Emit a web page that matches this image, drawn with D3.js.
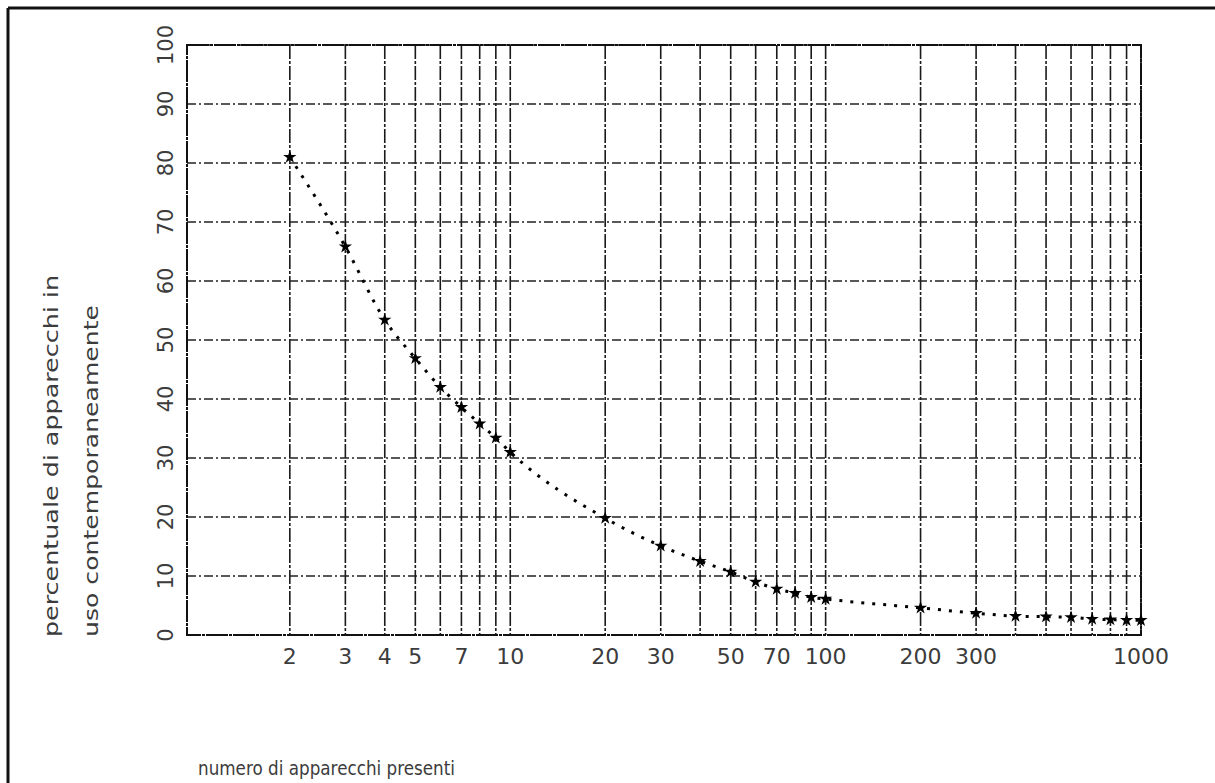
<!DOCTYPE html>
<html>
<head>
<meta charset="utf-8">
<script src="https://cdn.jsdelivr.net/npm/d3@7"></script>
<style>
	body { margin: 0; background: #fff; }
	text { font-family: "DejaVu Sans", sans-serif; fill: #3c3c3c; }
</style>
</head>
<body>
<script>
// numero di apparecchi presenti -> percentuale in uso contemporaneamente
var counts = [2, 3, 4, 5, 6, 7, 8, 9, 10, 20, 30, 40, 50, 60, 70, 80, 90, 100, 200, 300, 400, 500, 600, 700, 800, 900, 1000];
var percents = [81.0, 65.8, 53.4, 46.9, 42.0, 38.6, 35.8, 33.4, 31.0, 19.8, 15.1, 12.5, 10.7, 9.0, 7.8, 7.1, 6.4, 6.1, 4.6, 3.7, 3.2, 3.1, 3.0, 2.7, 2.6, 2.5, 2.5];
var xTickLabels = [2, 3, 4, 5, 7, 10, 20, 30, 50, 70, 100, 200, 300, 1000];
var yTickLabels = [0, 10, 20, 30, 40, 50, 60, 70, 80, 90, 100];
var yTitle = ["percentuale di apparecchi in", "uso contemporaneamente"];
var xTitle = "numero di apparecchi presenti";

var w = 1215, h = 783;
var plotL = 187, plotR = 1141, plotT = 45, plotB = 635;

function draw() {
	var svg = d3.select("body")
			.append("svg")
			.attr("width", w)
			.attr("height", h);

	// outer frame (only top and left visible)
	svg.append("line").attr("x1", 8).attr("x2", w).attr("y1", 8).attr("y2", 8)
		.attr("stroke", "#111").attr("stroke-width", 3);
	svg.append("line").attr("x1", 8).attr("x2", 8).attr("y1", 8).attr("y2", h)
		.attr("stroke", "#111").attr("stroke-width", 3);

	var x = d3.scaleLog().domain([0.944, 1000]).range([plotL, plotR]);
	var y = d3.scaleLinear().domain([0, 100]).range([plotB, plotT]);

	// vertical grid
	var gridX = x.ticks().filter(function(d) { return d >= 2; });
	svg.append("g").selectAll("line")
		.data(gridX)
		.enter().append("line")
		.attr("x1", function(d) { return x(d); })
		.attr("x2", function(d) { return x(d); })
		.attr("y1", plotT)
		.attr("y2", plotB)
		.attr("stroke", "#1a1a1a")
		.attr("stroke-width", 1.6)
		.attr("stroke-dasharray", "14,2,3,2");

	// horizontal grid
	svg.append("g").selectAll("line")
		.data(yTickLabels.filter(function(d) { return d > 0; }))
		.enter().append("line")
		.attr("x1", plotL)
		.attr("x2", plotR)
		.attr("y1", function(d) { return y(d); })
		.attr("y2", function(d) { return y(d); })
		.attr("stroke", "#222")
		.attr("stroke-width", 1.3)
		.attr("stroke-dasharray", "9,3,2,3");

	// plot border
	svg.append("rect")
		.attr("x", plotL).attr("y", plotT)
		.attr("width", plotR - plotL).attr("height", plotB - plotT)
		.attr("fill", "none")
		.attr("stroke", "#111")
		.attr("stroke-width", 2)
		.attr("stroke-dasharray", "22,1,3,1");

	// tick labels
	svg.append("g").selectAll("text")
		.data(xTickLabels)
		.enter().append("text")
		.attr("x", function(d) { return x(d); })
		.attr("y", 664)
		.attr("text-anchor", "middle")
		.attr("font-size", 22)
		.text(function(d) { return d; });

	svg.append("g").selectAll("text")
		.data(yTickLabels)
		.enter().append("text")
		.attr("transform", function(d) { return "translate(165," + y(d) + ") rotate(-90)"; })
		.attr("text-anchor", "middle")
		.attr("dy", "0.36em")
		.attr("font-size", 21)
		.text(function(d) { return d; });

	// axis titles
	svg.append("g").selectAll("text")
		.data(yTitle)
		.enter().append("text")
		.attr("transform", function(d, i) { return "translate(" + (58 + i * 40) + ",637) rotate(-90)"; })
		.attr("font-size", 20)
		.attr("textLength", function(d, i) { return i == 0 ? 362 : 332; })
		.attr("lengthAdjust", "spacingAndGlyphs")
		.text(function(d) { return d; });

	svg.append("text")
		.attr("x", 198)
		.attr("y", 775)
		.attr("font-size", 19)
		.attr("textLength", 257)
		.attr("lengthAdjust", "spacingAndGlyphs")
		.text(xTitle);

	// dotted curve + markers
	var pts = counts.map(function(c, i) { return [c, percents[i]]; });
	var line = d3.line()
			.x(function(d) { return x(d[0]); })
			.y(function(d) { return y(d[1]); })
			.curve(d3.curveMonotoneX);
	svg.append("path")
		.attr("d", line(pts))
		.attr("fill", "none")
		.attr("stroke", "#000")
		.attr("stroke-width", 3)
		.attr("stroke-dasharray", "3,8");

	svg.append("g").selectAll("path")
		.data(pts)
		.enter().append("path")
		.attr("transform", function(d) { return "translate(" + x(d[0]) + "," + y(d[1]) + ")"; })
		.attr("d", d3.symbol().type(d3.symbolStar).size(55))
		.attr("fill", "#000");
}

draw();
</script>
</body>
</html>
